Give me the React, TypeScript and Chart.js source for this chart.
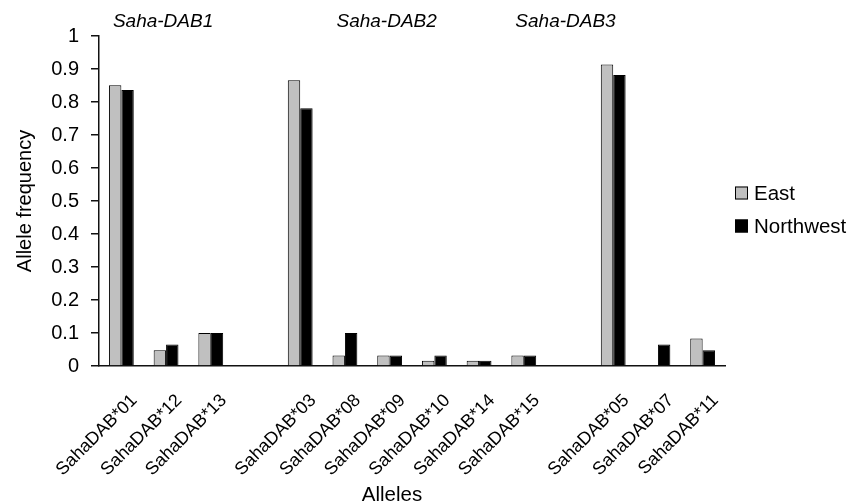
import React, { useEffect, useRef } from "react";
import { Chart, registerables } from "chart.js";

Chart.register(...registerables);

const categories = [
  "SahaDAB*01", "SahaDAB*12", "SahaDAB*13", "",
  "SahaDAB*03", "SahaDAB*08", "SahaDAB*09", "SahaDAB*10", "SahaDAB*14", "SahaDAB*15", "",
  "SahaDAB*05", "SahaDAB*07", "SahaDAB*11",
];
const eastValues = [0.851, 0.048, 0.1, null, 0.866, 0.032, 0.032, 0.016, 0.016, 0.032, null, 0.914, 0, 0.083];
const northwestValues = [0.836, 0.065, 0.1, null, 0.781, 0.1, 0.032, 0.032, 0.016, 0.032, null, 0.882, 0.065, 0.048];
const yTickLabels = ["0", "0.1", "0.2", "0.3", "0.4", "0.5", "0.6", "0.7", "0.8", "0.9", "1"];
const groupTitles = ["Saha-DAB1", "Saha-DAB2", "Saha-DAB3"];
const groupTitleIndex = [1, 6, 10];
const seriesNames = ["East", "Northwest"];
const seriesColors = ["#c0c0c0", "#000000"];

const FONT = "'Liberation Sans', Arial, sans-serif";

const decorPlugin = {
  id: "decor",
  afterDraw(chart: any) {
    const { ctx, chartArea, scales } = chart;
    ctx.save();
    ctx.fillStyle = "#000";
    ctx.textAlign = "center";
    ctx.textBaseline = "middle";
    // group titles
    ctx.font = `italic 19px ${FONT}`;
    groupTitles.forEach((t, i) => {
      const x = scales.x.getPixelForValue(groupTitleIndex[i]) - 3;
      ctx.fillText(t, x, chartArea.top - 14);
    });
    // x-axis title
    ctx.font = `20.5px ${FONT}`;
    const midX = chartArea.left + (chartArea.right - chartArea.left) * 0.468;
    ctx.fillText("Alleles", midX, chart.height - 9);
    // legend
    const midY = (chartArea.top + chartArea.bottom) / 2;
    const lx = chartArea.right + 10;
    const offsets = [-8, 25];
    ctx.textAlign = "left";
    ctx.font = `20.5px ${FONT}`;
    seriesNames.forEach((name, i) => {
      const cy = midY + offsets[i];
      ctx.fillStyle = seriesColors[i];
      ctx.fillRect(lx, cy - 6.5, 13, 13);
      ctx.strokeStyle = "#000";
      ctx.lineWidth = 1;
      ctx.strokeRect(lx + 0.5, cy - 6, 12, 12);
      ctx.fillStyle = "#000";
      ctx.fillText(name, lx + 19, cy + 1);
    });
    ctx.restore();
  },
};

export default function App() {
  const ref = useRef<HTMLCanvasElement>(null);
  useEffect(() => {
    if (!ref.current) return;
    const chart = new Chart(ref.current, {
      type: "bar",
      data: {
        labels: categories,
        datasets: [
          {
            label: seriesNames[0],
            data: eastValues,
            backgroundColor: seriesColors[0],
            borderColor: "#000",
            borderWidth: 1,
            categoryPercentage: 0.555,
            barPercentage: 1,
          },
          {
            label: seriesNames[1],
            data: northwestValues,
            backgroundColor: seriesColors[1],
            borderColor: "#000",
            borderWidth: 1,
            categoryPercentage: 0.555,
            barPercentage: 1,
          },
        ],
      },
      options: {
        animation: false,
        responsive: false,
        layout: { padding: { top: 36, left: 0, right: 136, bottom: 0 } },
        plugins: {
          legend: { display: false },
          tooltip: { enabled: false },
        },
        scales: {
          x: {
            afterFit: (s: any) => { s.height = 138; },
            grid: { display: false },
            border: { display: true, color: "#111", width: 1.5 },
            ticks: {
              color: "#000",
              font: { family: FONT, size: 18 },
              minRotation: 45,
              maxRotation: 45,
              autoSkip: false,
              padding: 16,
              labelOffset: 13,
            },
          },
          y: {
            min: 0,
            max: 1,
            afterFit: (s: any) => { s.width = 99; },
            grid: { display: true, drawOnChartArea: false, drawTicks: true, tickLength: 8, color: "#111", lineWidth: 1.5 },
            border: { display: true, color: "#111", width: 1.5 },
            ticks: {
              stepSize: 0.1,
              color: "#000",
              font: { family: FONT, size: 20 },
              padding: 12,
              callback: (_v: any, i: number) => yTickLabels[i],
            },
            title: {
              display: true,
              text: "Allele frequency",
              color: "#000",
              font: { family: FONT, size: 20 },
              padding: { top: 13, bottom: 0 },
            },
          },
        },
      },
      plugins: [decorPlugin],
    });
    return () => chart.destroy();
  }, []);
  return (
    <div style={{ position: "fixed", left: 0, top: 0, width: 861, height: 504, background: "#fff" }}>
      <canvas ref={ref} width={861} height={504} />
    </div>
  );
}
